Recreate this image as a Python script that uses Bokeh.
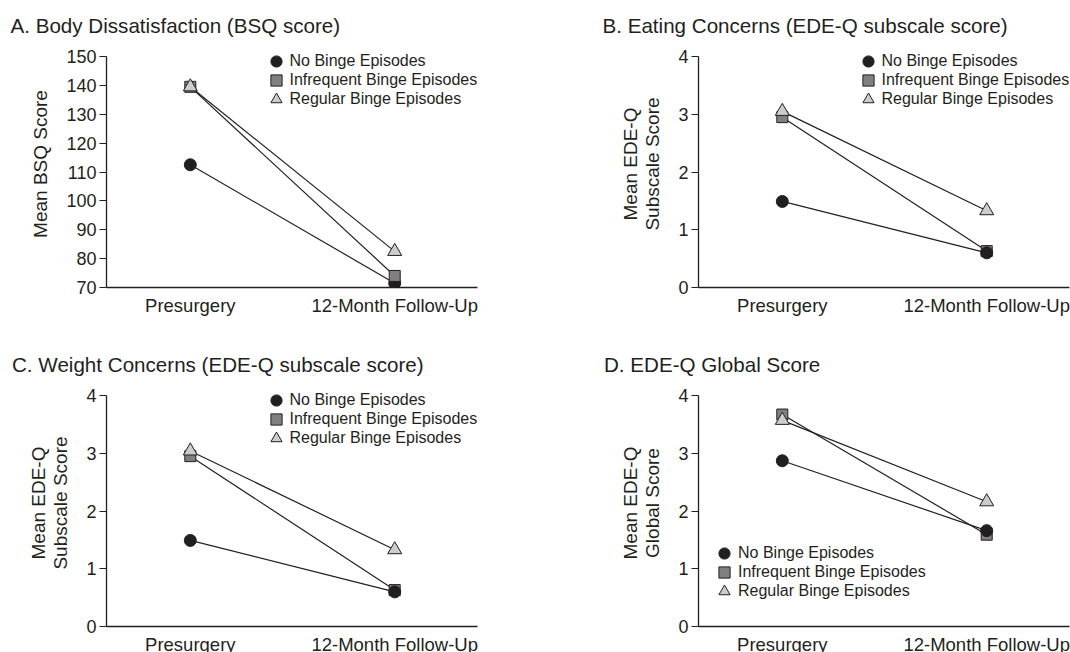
from bokeh.plotting import figure
from bokeh.layouts import column, row
from bokeh.models import Range1d, FixedTicker, Legend, LegendItem
from bokeh.embed import file_html
from bokeh.resources import INLINE

# ---------------- data ----------------
timepoints = ["Presurgery", "12-Month Follow-Up"]
groups = ["No Binge Episodes", "Infrequent Binge Episodes", "Regular Binge Episodes"]

titles = [
    "A. Body Dissatisfaction (BSQ score)",
    "B. Eating Concerns (EDE-Q subscale score)",
    "C. Weight Concerns (EDE-Q subscale score)",
    "D. EDE-Q Global Score",
]
ylabels = [
    "Mean BSQ Score",
    "Mean EDE-Q\nSubscale Score",
    "Mean EDE-Q\nSubscale Score",
    "Mean EDE-Q\nGlobal Score",
]
yticks_a = [70, 80, 90, 100, 110, 120, 130, 140, 150]
yticks_edeq = [0, 1, 2, 3, 4]

# values per group: [Presurgery, 12-Month Follow-Up]
a_none = [112.5, 71.5]
a_infreq = [139.5, 74.0]
a_regular = [139.5, 82.5]

b_none = [1.49, 0.60]
b_infreq = [2.95, 0.63]
b_regular = [3.05, 1.33]

c_none = [1.49, 0.60]
c_infreq = [2.95, 0.63]
c_regular = [3.04, 1.33]

d_none = [2.87, 1.66]
d_infreq = [3.67, 1.59]
d_regular = [3.57, 2.16]

# ---------------- style ----------------
FONT = "Liberation Sans"
INK = "#231f20"
marker_styles = [
    dict(marker="circle", fill_color="#231f20", size=12),
    dict(marker="square", fill_color="#808080", size=11),
    dict(marker="triangle", fill_color="#cccccc", size=14),
]

AXIS_H = 231      # pixel height of the drawn y axis
EXTRA = 16        # extra frame space above the top tick (room for legends)
GLYPH = 28
ROW = 19


def make_panel(title, ylabel, yticks, series, border_l, border_r,
               border_b, title_offset, legend_xy, draw_order):
    ymin, ymax = yticks[0], yticks[-1]
    y_end = ymax + EXTRA * (ymax - ymin) / AXIS_H
    fh = AXIS_H + EXTRA
    p = figure(
        frame_width=371, frame_height=fh,
        x_range=Range1d(-0.41, 1.405), y_range=Range1d(ymin, y_end),
        output_backend="svg", toolbar_location=None, tools="",
        min_border_left=border_l, min_border_right=border_r,
        min_border_top=56 - EXTRA, min_border_bottom=border_b,
        background_fill_color="white", border_fill_color="white",
        outline_line_color=None,
    )
    p.xgrid.visible = False
    p.ygrid.visible = False

    # title
    p.title.text = title
    p.title.text_font = FONT
    p.title.text_font_size = "20.6px"
    p.title.text_font_style = "normal"
    p.title.text_color = INK
    p.title.align = "left"
    p.title.offset = title_offset
    p.title.standoff = 8

    # x axis
    xs = list(range(len(timepoints)))
    xa = p.xaxis[0]
    xa.ticker = FixedTicker(ticks=xs)
    xa.major_label_overrides = {i: t for i, t in zip(xs, timepoints)}
    xa.major_tick_out = 0
    xa.major_tick_in = 0
    xa.minor_tick_out = 0
    xa.minor_tick_in = 0
    xa.major_label_standoff = 7
    xa.major_label_text_font = FONT
    xa.major_label_text_font_size = "18.5px"
    xa.major_label_text_color = INK
    xa.axis_line_color = INK
    xa.axis_line_width = 1.3

    # y axis
    ya = p.yaxis[0]
    ya.ticker = FixedTicker(ticks=yticks)
    ya.bounds = (ymin, ymax)
    ya.major_tick_out = 7
    ya.major_tick_in = 0
    ya.minor_tick_out = 0
    ya.minor_tick_in = 0
    ya.major_tick_line_color = INK
    ya.major_tick_line_width = 1.2
    ya.major_label_standoff = 3
    ya.major_label_text_font = FONT
    ya.major_label_text_font_size = "18px"
    ya.major_label_text_color = INK
    ya.axis_line_color = INK
    ya.axis_line_width = 1.3
    ya.axis_label = ylabel
    ya.axis_label_text_font = FONT
    ya.axis_label_text_font_size = "19px"
    ya.axis_label_text_font_style = "normal"
    ya.axis_label_text_color = INK
    ya.axis_label_text_line_height = 1.05
    ya.axis_label_standoff = 12

    # lines
    for vals in series:
        p.line(xs, vals, line_color=INK, line_width=1.2)

    # markers
    renderers = [None] * len(series)
    for gi in draw_order:
        st = marker_styles[gi]
        renderers[gi] = p.scatter(xs, series[gi], marker=st["marker"], size=st["size"],
                                  fill_color=st["fill_color"], line_color=INK,
                                  line_width=1.0)

    # legend: one single-item legend per row (keeps large glyphs at tight spacing)
    lx, top_center = legend_xy   # glyph box left; first row centre below axis top
    for i, (g, r) in enumerate(zip(groups, renderers)):
        center = EXTRA + top_center + ROW * i
        ly = fh - (center + GLYPH / 2)
        legend = Legend(
            items=[LegendItem(label=g, renderers=[r])],
            location=(lx, ly),
            glyph_width=GLYPH, glyph_height=GLYPH, label_height=GLYPH, label_width=10,
            label_standoff=0, spacing=0, padding=0, margin=0,
            label_text_font=FONT, label_text_font_size="16px", label_text_color=INK,
            border_line_color=None, background_fill_alpha=0,
        )
        p.add_layout(legend, "center")
    return p


pa = make_panel(titles[0], ylabels[0], yticks_a, [a_none, a_infreq, a_regular],
                106, 53, 52, -96, (155.5, 5), [0, 1, 2])
pb = make_panel(titles[1], ylabels[1], yticks_edeq, [b_none, b_infreq, b_regular],
                168, 1, 52, -96, (155.5, 5), [1, 0, 2])
pc = make_panel(titles[2], ylabels[2], yticks_edeq, [c_none, c_infreq, c_regular],
                106, 53, 26, -94.5, (155.5, 5), [1, 0, 2])
pd = make_panel(titles[3], ylabels[3], yticks_edeq, [d_none, d_infreq, d_regular],
                168, 1, 26, -94.5, (12, 158.4), [1, 0, 2])

layout = column(row(pa, pb, spacing=0), row(pc, pd, spacing=0), spacing=0)

open("out.html", "w").write(file_html(layout, INLINE))
